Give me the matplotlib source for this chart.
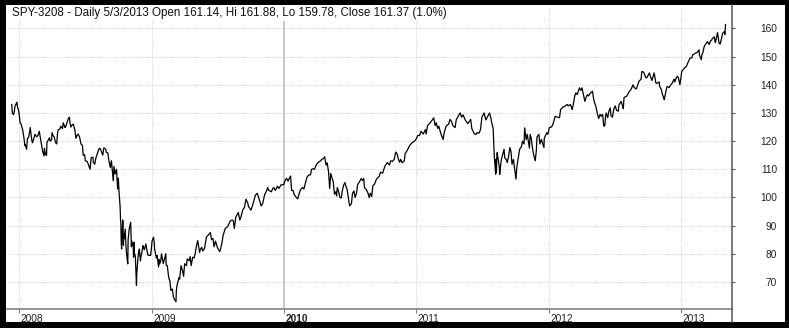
import matplotlib
matplotlib.use("Agg")
import matplotlib.pyplot as plt
import matplotlib.transforms as mtransforms
from matplotlib.patches import Rectangle
from matplotlib.lines import Line2D
from datetime import datetime

plt.rcParams['font.family'] = ['Liberation Sans', 'DejaVu Sans']

title = "SPY-3208 - Daily 5/3/2013 Open 161.14, Hi 161.88, Lo 159.78, Close 161.37 (1.0%)"

# daily closes (dividend adjusted), month-day per year
dates_2007 = ["12-12", "12-13", "12-14", "12-17", "12-19", "12-21", "12-24", "12-26", "12-28", "12-31"]
close_2007 = [133.0, 131.0, 129.8, 129.4, 130.5, 132.5, 133.2, 133.8, 132.0, 130.8]

dates_2008 = ["01-02", "01-04", "01-07", "01-09", "01-11", "01-15", "01-17", "01-18", "01-22", "01-24",
              "01-28", "01-31", "02-01", "02-05", "02-07", "02-11", "02-14", "02-19", "02-22", "02-26",
              "02-28", "03-03", "03-06", "03-10", "03-11", "03-14", "03-17", "03-18", "03-20", "03-25",
              "03-27", "03-31", "04-01", "04-04", "04-07", "04-11", "04-14", "04-16", "04-18", "04-23",
              "04-25", "04-30", "05-02", "05-07", "05-09", "05-13", "05-16", "05-19", "05-21", "05-23",
              "05-28", "05-30", "06-03", "06-06", "06-09", "06-12", "06-16", "06-20", "06-24", "06-26",
              "06-30", "07-02", "07-07", "07-11", "07-15", "07-17", "07-18", "07-23", "07-24", "07-28",
              "07-31", "08-05", "08-08", "08-11", "08-14", "08-19", "08-22", "08-27", "08-29", "09-02",
              "09-05", "09-09", "09-11", "09-12", "09-15", "09-17", "09-19", "09-22", "09-26", "09-29",
              "09-30", "10-01", "10-03", "10-06", "10-07", "10-08", "10-09", "10-10", "10-13", "10-14",
              "10-15", "10-16", "10-17", "10-20", "10-22", "10-24", "10-27", "10-28", "10-30", "10-31",
              "11-04", "11-05", "11-06", "11-07", "11-11", "11-12", "11-13", "11-14", "11-17", "11-19",
              "11-20", "11-21", "11-24", "11-26", "11-28", "12-01", "12-02", "12-05", "12-08", "12-10",
              "12-12", "12-16", "12-19", "12-22", "12-29", "12-31"]
close_2008 = [129.0, 126.5, 126.0, 124.8, 124.1, 120.8, 118.5, 118.8, 117.1, 120.8,
              121.5, 124.1, 124.8, 120.5, 119.4, 121.0, 122.4, 121.5, 122.0, 123.5,
              121.8, 118.8, 116.5, 114.7, 117.5, 115.3, 114.9, 119.5, 120.0, 121.2,
              120.0, 120.5, 123.0, 122.0, 121.5, 119.4, 119.0, 122.5, 124.0, 124.3,
              125.3, 124.5, 126.5, 124.8, 125.2, 126.8, 128.0, 128.5, 126.2, 125.0,
              126.0, 125.9, 124.0, 121.0, 122.0, 122.5, 121.5, 119.0, 118.5, 115.0,
              115.2, 113.0, 112.8, 111.5, 110.0, 112.5, 114.1, 114.3, 112.4, 111.8,
              114.0, 116.0, 117.1, 117.5, 116.8, 115.0, 117.6, 117.2, 116.0, 115.8,
              113.0, 110.6, 112.5, 113.0, 108.5, 105.9, 111.0, 108.3, 110.0, 103.0,
              106.5, 106.8, 101.8, 96.5, 92.3, 90.5, 84.0, 81.7, 92.0, 91.0,
              83.0, 86.5, 85.3, 88.8, 82.9, 79.5, 76.4, 85.0, 87.5, 88.8,
              91.2, 86.5, 82.5, 84.5, 82.5, 78.8, 84.1, 80.5, 79.0, 72.0,
              68.8, 73.0, 78.4, 80.5, 81.7, 77.5, 78.8, 80.5, 82.9, 82.0,
              81.5, 83.5, 81.1, 79.5, 79.4, 81.5]

dates_2009 = ["01-02", "01-06", "01-08", "01-09", "01-14", "01-16", "01-20", "01-21", "01-23", "01-26",
              "01-28", "02-02", "02-05", "02-09", "02-10", "02-13", "02-17", "02-20", "02-23", "02-27",
              "03-02", "03-05", "03-09", "03-10", "03-12", "03-17", "03-19", "03-23", "03-27", "03-30",
              "04-02", "04-07", "04-09", "04-14", "04-17", "04-20", "04-24", "04-28", "05-01", "05-04",
              "05-08", "05-13", "05-15", "05-19", "05-22", "05-27", "06-01", "06-05", "06-12", "06-15",
              "06-19", "06-22", "06-26", "07-02", "07-08", "07-10", "07-14", "07-17", "07-23", "07-28",
              "07-31", "08-05", "08-10", "08-14", "08-17", "08-21", "08-28", "09-01", "09-04", "09-09",
              "09-14", "09-18", "09-23", "09-25", "10-02", "10-07", "10-14", "10-19", "10-23", "10-30",
              "11-03", "11-09", "11-13", "11-17", "11-20", "11-27", "12-01", "12-04", "12-08", "12-14",
              "12-18", "12-24", "12-31"]
close_2009 = [84.5, 85.9, 84.0, 81.7, 78.5, 79.4, 75.3, 78.0, 76.4, 77.5,
              80.0, 76.5, 78.0, 80.0, 76.0, 75.8, 71.5, 70.5, 67.0, 67.5,
              64.7, 63.8, 63.0, 67.0, 68.8, 71.5, 71.0, 75.8, 74.0, 72.0,
              76.5, 75.8, 78.2, 77.5, 79.0, 75.8, 78.8, 78.5, 80.0, 82.5,
              84.7, 80.5, 81.5, 82.3, 81.0, 82.0, 86.0, 86.5, 87.6, 85.0,
              85.5, 82.5, 84.5, 82.0, 80.8, 81.7, 84.0, 86.5, 89.0, 89.5,
              90.0, 91.5, 92.0, 91.8, 89.0, 93.0, 94.7, 92.0, 93.0, 95.5,
              96.5, 99.4, 98.0, 96.8, 95.5, 97.5, 100.8, 101.5, 100.0, 97.0,
              97.8, 101.2, 102.0, 103.5, 102.5, 102.0, 103.2, 103.5, 102.5, 104.0,
              103.2, 104.5, 104.5]

dates_2010 = ["01-04", "01-08", "01-12", "01-19", "01-21", "01-22", "01-26", "01-29", "02-04", "02-08",
              "02-12", "02-16", "02-22", "02-25", "03-01", "03-05", "03-10", "03-15", "03-18", "03-22",
              "03-26", "04-01", "04-06", "04-12", "04-15", "04-20", "04-23", "04-27", "04-30", "05-04",
              "05-06", "05-07", "05-10", "05-13", "05-17", "05-20", "05-24", "05-26", "05-28", "06-01",
              "06-04", "06-08", "06-11", "06-15", "06-18", "06-22", "06-24", "06-29", "07-01", "07-06",
              "07-09", "07-13", "07-16", "07-20", "07-23", "07-27", "08-02", "08-06", "08-09", "08-11",
              "08-16", "08-20", "08-24", "08-27", "08-31", "09-03", "09-08", "09-13", "09-17", "09-21",
              "09-24", "09-30", "10-05", "10-08", "10-13", "10-19", "10-22", "10-27", "11-01", "11-05",
              "11-09", "11-12", "11-16", "11-19", "11-23", "11-29", "12-01", "12-06", "12-10", "12-14",
              "12-20", "12-27", "12-31"]
close_2010 = [106.0, 106.8, 105.8, 107.6, 104.5, 102.5, 102.5, 101.0, 100.0, 99.5,
              101.5, 102.9, 103.5, 103.0, 105.0, 107.1, 108.0, 108.0, 110.0, 110.2,
              110.0, 111.8, 112.5, 113.0, 113.5, 113.8, 114.5, 111.5, 112.3, 109.0,
              104.7, 103.2, 108.5, 107.1, 105.5, 101.2, 102.0, 100.5, 103.5, 102.0,
              100.0, 99.8, 102.5, 104.5, 105.3, 103.5, 102.9, 98.5, 97.0, 97.8,
              101.5, 102.3, 100.0, 101.5, 104.5, 105.3, 106.7, 106.0, 106.7, 103.5,
              102.8, 101.8, 100.0, 101.5, 100.3, 104.1, 104.8, 106.5, 107.0, 107.6,
              109.0, 108.6, 110.6, 111.5, 112.4, 111.5, 113.0, 112.8, 113.5, 116.1,
              115.5, 113.8, 112.5, 113.5, 112.3, 113.0, 115.5, 116.5, 117.5, 118.5,
              119.4, 120.0, 120.6]

dates_2011 = ["01-05", "01-10", "01-14", "01-20", "01-26", "01-28", "02-01", "02-08", "02-14", "02-18",
              "02-22", "02-25", "03-01", "03-04", "03-10", "03-16", "03-18", "03-24", "03-31", "04-04",
              "04-08", "04-12", "04-18", "04-21", "04-29", "05-02", "05-06", "05-10", "05-16", "05-23",
              "05-31", "06-03", "06-10", "06-15", "06-17", "06-23", "06-27", "07-01", "07-07", "07-12",
              "07-15", "07-21", "07-22", "07-26", "07-28", "08-01", "08-02", "08-04", "08-08", "08-09",
              "08-10", "08-11", "08-12", "08-18", "08-19", "08-23", "08-26", "08-31", "09-02", "09-06",
              "09-09", "09-13", "09-16", "09-19", "09-22", "09-26", "09-28", "09-30", "10-03", "10-05",
              "10-10", "10-13", "10-18", "10-21", "10-25", "10-27", "10-31", "11-03", "11-09", "11-11",
              "11-14", "11-17", "11-21", "11-25", "11-28", "11-30", "12-05", "12-08", "12-12", "12-16",
              "12-19", "12-20", "12-27", "12-30"]
close_2011 = [122.0, 122.0, 123.5, 122.5, 124.1, 122.5, 125.5, 126.5, 127.5, 128.3,
              125.5, 126.5, 124.5, 125.3, 122.5, 120.6, 122.5, 125.3, 126.0, 127.7,
              127.0, 125.5, 124.8, 127.5, 129.4, 130.0, 128.5, 129.3, 127.5, 126.2,
              127.7, 124.5, 122.5, 122.4, 123.0, 122.8, 124.1, 128.5, 130.0, 127.5,
              128.3, 129.8, 130.0, 128.0, 126.5, 124.5, 121.2, 114.7, 108.2, 113.5,
              108.8, 114.0, 115.9, 110.8, 108.2, 113.0, 114.7, 117.1, 114.0, 113.5,
              112.4, 115.0, 117.7, 116.5, 111.8, 113.5, 111.2, 109.5, 106.5, 110.5,
              114.5, 117.1, 118.0, 120.0, 119.0, 124.7, 120.5, 122.4, 117.5, 122.4,
              121.0, 117.8, 115.0, 113.0, 116.5, 121.5, 122.4, 119.0, 120.6, 119.0,
              117.7, 121.0, 123.0, 122.4]

dates_2012 = ["01-03", "01-09", "01-13", "01-19", "01-25", "01-31", "02-03", "02-09", "02-15", "02-21",
              "02-24", "03-01", "03-06", "03-09", "03-13", "03-16", "03-20", "03-26", "03-30", "04-02",
              "04-05", "04-10", "04-13", "04-17", "04-20", "04-25", "05-01", "05-04", "05-07", "05-11",
              "05-14", "05-18", "05-22", "05-25", "05-29", "06-01", "06-04", "06-06", "06-08", "06-12",
              "06-15", "06-19", "06-21", "06-25", "06-29", "07-03", "07-06", "07-11", "07-13", "07-19",
              "07-23", "07-25", "07-27", "08-03", "08-10", "08-15", "08-21", "08-24", "08-30", "09-06",
              "09-12", "09-14", "09-19", "09-25", "09-28", "10-05", "10-09", "10-12", "10-18", "10-23",
              "10-26", "11-01", "11-02", "11-07", "11-09", "11-15", "11-16", "11-21", "11-23", "11-28",
              "12-03", "12-07", "12-12", "12-14", "12-18", "12-21", "12-24", "12-28", "12-31"]
close_2012 = [124.8, 125.0, 126.0, 128.8, 128.5, 128.3, 131.2, 132.0, 132.4, 133.0,
              132.5, 133.0, 131.2, 133.0, 136.0, 137.1, 136.5, 138.9, 138.0, 138.9,
              137.1, 134.1, 135.5, 136.5, 136.0, 137.0, 137.7, 135.0, 133.6, 132.0,
              130.0, 128.0, 129.5, 128.8, 129.5, 125.3, 125.5, 128.8, 130.0, 128.3,
              130.5, 131.8, 129.0, 128.5, 131.5, 132.5, 131.0, 130.6, 132.8, 134.1,
              132.5, 131.5, 135.5, 135.9, 137.5, 138.3, 140.0, 139.0, 138.5, 141.2,
              142.0, 144.7, 144.5, 142.5, 142.5, 144.2, 142.5, 141.5, 144.2, 140.6,
              140.5, 141.0, 139.5, 138.3, 137.0, 134.7, 135.5, 138.5, 139.4, 139.0,
              140.0, 140.6, 142.0, 141.0, 142.4, 143.0, 142.5, 140.0, 142.5]

dates_2013 = ["01-02", "01-04", "01-10", "01-15", "01-18", "01-25", "01-30", "02-01", "02-05", "02-08",
              "02-14", "02-19", "02-20", "02-25", "02-27", "03-01", "03-05", "03-08", "03-14", "03-19",
              "03-22", "03-26", "03-28", "04-02", "04-04", "04-05", "04-11", "04-15", "04-18", "04-22",
              "04-25", "04-30", "05-01", "05-02", "05-03"]
close_2013 = [144.7, 145.0, 146.0, 146.5, 147.5, 149.5, 149.5, 150.6, 150.8, 151.2,
              151.5, 152.4, 150.5, 148.9, 150.8, 151.2, 153.5, 154.2, 155.3, 154.3,
              155.5, 155.9, 156.5, 157.0, 155.3, 155.0, 158.5, 154.8, 154.4, 156.5,
              158.3, 158.9, 157.8, 159.5, 161.37]

years = [2008, 2009, 2010, 2011, 2012, 2013]
price_ticks = [70, 80, 90, 100, 110, 120, 130, 140, 150, 160]

series = [(2007, dates_2007, close_2007), (2008, dates_2008, close_2008),
          (2009, dates_2009, close_2009), (2010, dates_2010, close_2010),
          (2011, dates_2011, close_2011), (2012, dates_2012, close_2012),
          (2013, dates_2013, close_2013)]
x, y = [], []
for yr, md, c in series:
    x += [datetime.strptime(f"{yr}-{d}", "%Y-%m-%d") for d in md]
    y += c

W, H = 789, 328
fig = plt.figure(figsize=(W / 100, H / 100), dpi=100)
fig.patch.set_facecolor("black")
fig.patches.append(Rectangle((6 / W, 6 / H), 779 / W, 317 / H, transform=fig.transFigure,
                             facecolor="white", edgecolor="none", zorder=-10))

ax = fig.add_axes([7 / W, 18.7 / H, 724.7 / W, 302.3 / H])
ax.set_facecolor("white")

ax.plot(x, y, color="black", lw=0.9, zorder=3)

# grid
for p in price_ticks:
    ax.axhline(p, color="#d6d6d6", lw=0.75, ls=(0, (1, 1)), zorder=1)
for yr in years:
    if yr == 2010:
        ax.axvline(datetime(yr, 1, 1), color="#bdbdbd", lw=1.2, zorder=1)
    else:
        ax.axvline(datetime(yr, 1, 1), color="#d6d6d6", lw=0.75, ls=(0, (1, 1)), zorder=1)

ax.set_xlim(datetime(2007, 11, 28, 21), datetime(2013, 5, 20))
ax.set_ylim(60.3, 167.6)

for side in ["top", "left", "right"]:
    ax.spines[side].set_visible(False)
ax.spines["bottom"].set_color("#808080")
ax.spines["bottom"].set_linewidth(1.2)

ax.set_xticks([datetime(yr, 1, 1) for yr in years])
ax.set_xticklabels([str(yr) for yr in years])
ax.tick_params(axis="x", direction="out", length=3, width=0.8, color="#808080",
               pad=0.5, labelsize=7.3, labelcolor="#222222")
offset = mtransforms.ScaledTranslation(1.5 / 100, 0, fig.dpi_scale_trans)
for lbl in ax.get_xticklabels():
    lbl.set_horizontalalignment("left")
    lbl.set_transform(lbl.get_transform() + offset)
    if lbl.get_text() == "2010":
        lbl.set_fontweight("bold")

ax.yaxis.tick_right()
ax.set_yticks(price_ticks)
ax.tick_params(axis="y", direction="out", length=2.4, width=0.8, color="#555555",
               pad=30.2, labelsize=7.3, labelcolor="#222222")
for lbl in ax.get_yticklabels():
    lbl.set_horizontalalignment("right")

# right axis line runs down to the frame
fig.add_artist(Line2D([731.7 / W, 731.7 / W], [6 / H, 323 / H], color="#555555", lw=1.1))

fig.text(12 / W, 1 - 13.3 / H, title, ha="left", va="center", fontsize=8.4, color="#111111",
         bbox=dict(facecolor="white", edgecolor="none", pad=1.2), zorder=5)

fig.savefig("out.png", dpi=100, facecolor=fig.get_facecolor())
